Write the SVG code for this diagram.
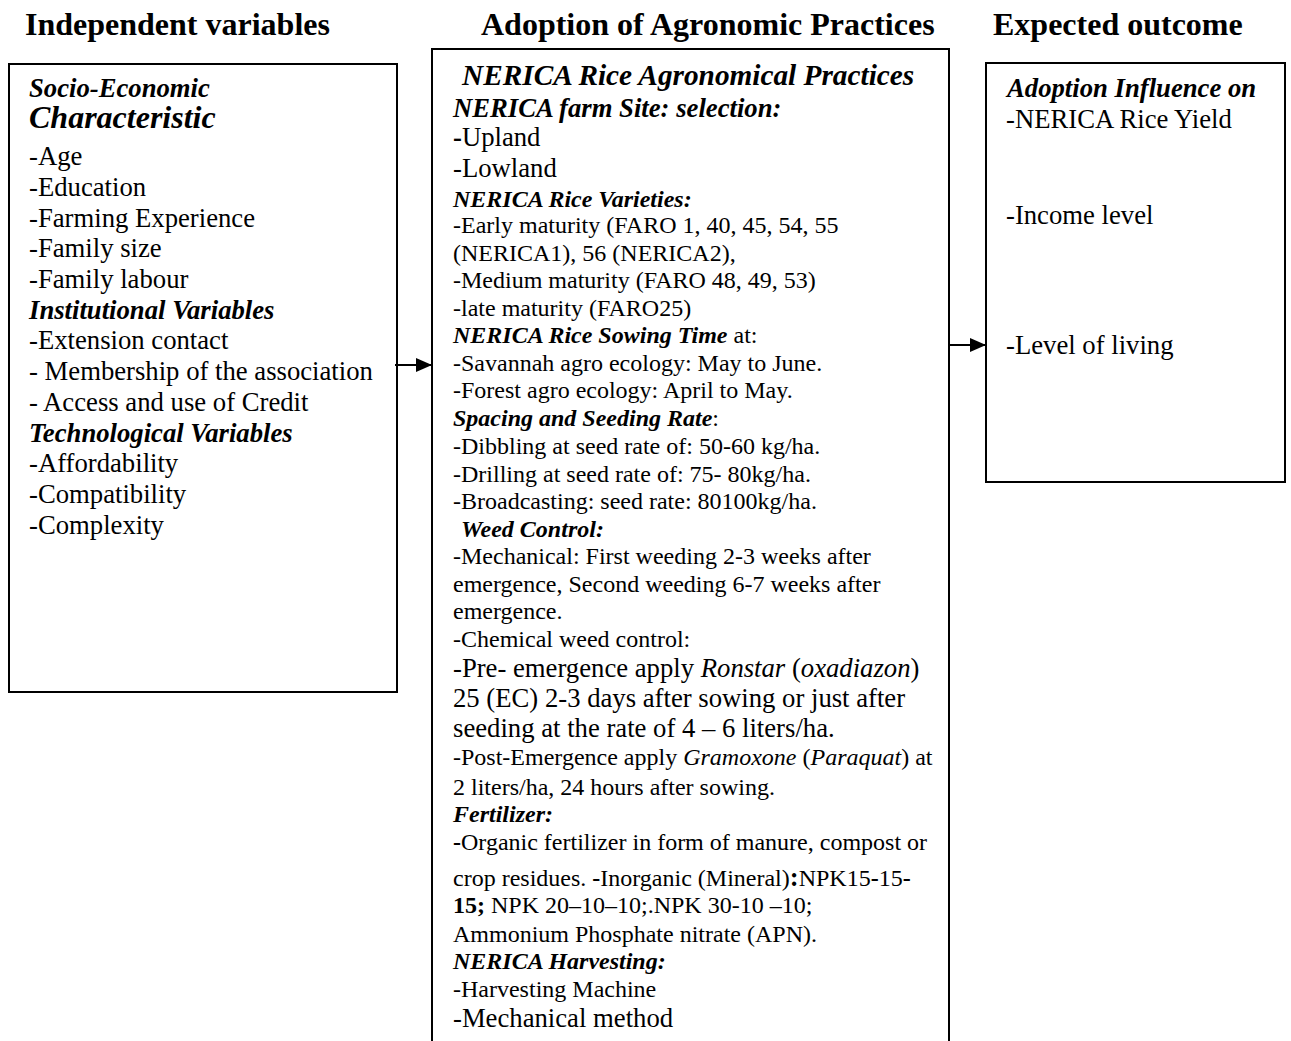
<svg xmlns="http://www.w3.org/2000/svg" width="1291" height="1041" viewBox="0 0 1291 1041">
<defs>
<style>
text{font-family:"Liberation Serif","Times New Roman",serif;fill:#000}
.h{font-size:32px;font-weight:bold}
.t{font-size:24px}
.m{font-size:26.7px}
.bi{font-weight:bold;font-style:italic}
.i{font-style:italic}
.b{font-weight:bold}
.box{fill:#fff;stroke:#000;stroke-width:2}
.conn{stroke:#000;stroke-width:2;fill:none}
</style>
<marker id="ah" markerWidth="8" markerHeight="7" refX="7.5" refY="3.5" orient="auto" markerUnits="strokeWidth">
<path d="M0,0 L8,3.5 L0,7 Z" fill="#000"/>
</marker>
</defs>
<rect width="1291" height="1041" fill="#fff"/>
<g id="headers">
<text class="h" x="25" y="35">Independent variables</text>
<text class="h" x="481" y="35">Adoption of Agronomic Practices</text>
<text class="h" x="993" y="35">Expected outcome</text>
</g>
<g id="node-independent">
<rect class="box" x="9" y="64" width="388" height="628"/>
<text class="m bi" x="29" y="97">Socio-Economic</text>
<text class="bi" x="29" y="128" style="font-size:32px">Characteristic</text>
<text class="m" x="29" y="165">-Age</text>
<text class="m" x="29" y="196">-Education</text>
<text class="m" x="29" y="227">-Farming Experience</text>
<text class="m" x="29" y="257">-Family size</text>
<text class="m" x="29" y="288">-Family labour</text>
<text class="m bi" x="29" y="319">Institutional Variables</text>
<text class="m" x="29" y="349">-Extension contact</text>
<text class="m" x="29" y="380">- Membership of the association</text>
<text class="m" x="29" y="411">- Access and use of Credit</text>
<text class="m bi" x="29" y="442">Technological Variables</text>
<text class="m" x="29" y="472">-Affordability</text>
<text class="m" x="29" y="503">-Compatibility</text>
<text class="m" x="29" y="534">-Complexity</text>
</g>
<g id="node-practices">
<path class="box" d="M432,1050 V49 H949 V1050"/>
<text class="bi" x="462" y="85" style="font-size:29.3px">NERICA Rice Agronomical Practices</text>
<text class="m bi" x="453" y="117">NERICA farm Site: selection:</text>
<text class="m" x="453" y="146"><tspan class="b">-</tspan>Upland</text>
<text class="m" x="453" y="177">-Lowland</text>
<text class="t bi" x="453" y="207">NERICA Rice Varieties:</text>
<text class="t" x="453" y="233">-Early maturity (FARO 1, 40, 45, 54, 55</text>
<text class="t" x="453" y="261">(NERICA1), 56 (NERICA2),</text>
<text class="t" x="453" y="288">-Medium maturity (FARO 48, 49, 53)</text>
<text class="t" x="453" y="316">-late maturity (FARO25)</text>
<text class="t" x="453" y="343"><tspan class="bi">NERICA Rice Sowing Time</tspan> at:</text>
<text class="t" x="453" y="371">-Savannah agro ecology: May to June.</text>
<text class="t" x="453" y="398">-Forest agro ecology: April to May.</text>
<text class="t" x="453" y="426"><tspan class="bi">Spacing and Seeding Rate</tspan>:</text>
<text class="t" x="453" y="454">-Dibbling at seed rate of: 50-60 kg/ha.</text>
<text class="t" x="453" y="482">-Drilling at seed rate of: 75- 80kg/ha.</text>
<text class="t" x="453" y="509">-Broadcasting: seed rate: 80100kg/ha.</text>
<text class="t bi" x="461" y="537">Weed Control:</text>
<text class="t" x="453" y="564">-Mechanical: First weeding 2-3 weeks after</text>
<text class="t" x="453" y="592">emergence, Second weeding 6-7 weeks after</text>
<text class="t" x="453" y="619">emergence.</text>
<text class="t" x="453" y="647">-Chemical weed control:</text>
<text class="m" x="453" y="677">-Pre- emergence apply <tspan class="i">Ronstar</tspan> (<tspan class="i">oxadiazon</tspan>)</text>
<text class="m" x="453" y="707">25 (EC) 2-3 days after sowing or just after</text>
<text class="m" x="453" y="737">seeding at the rate of 4 – 6 liters/ha.</text>
<text class="t" x="453" y="765">-Post-Emergence apply <tspan class="i">Gramoxone</tspan> (<tspan class="i">Paraquat</tspan>) at</text>
<text class="t" x="453" y="795">2 liters/ha, 24 hours after sowing.</text>
<text class="t bi" x="453" y="822">Fertilizer:</text>
<text class="t" x="453" y="850"><tspan class="b">-</tspan>Organic fertilizer in form of manure, compost or</text>
<text class="t" x="453" y="886">crop residues. <tspan class="b">-</tspan>Inorganic (Mineral)<tspan class="b" style="font-size:26.7px">:</tspan>NPK15<tspan class="b">-</tspan>15<tspan class="b">-</tspan></text>
<text class="t" x="453" y="913"><tspan class="b">15;</tspan> NPK 20–10–10;.NPK 30-10 –10;</text>
<text class="t" x="453" y="942">Ammonium Phosphate nitrate (APN).</text>
<text class="t bi" x="453" y="969">NERICA Harvesting:</text>
<text class="t" x="453" y="997">-Harvesting Machine</text>
<text class="m" x="453" y="1027">-Mechanical method</text>
</g>
<g id="node-outcome">
<rect class="box" x="986" y="63" width="299" height="419"/>
<text class="m bi" x="1007" y="97">Adoption Influence on</text>
<text class="m" x="1006" y="128">-NERICA Rice Yield</text>
<text class="m" x="1006" y="224">-Income level</text>
<text class="m" x="1006" y="354">-Level of living</text>
</g>
<g id="connectors">
<line class="conn" x1="395" y1="365" x2="431" y2="365" marker-end="url(#ah)"/>
<line class="conn" x1="949" y1="345" x2="985" y2="345" marker-end="url(#ah)"/>
</g>
</svg>
